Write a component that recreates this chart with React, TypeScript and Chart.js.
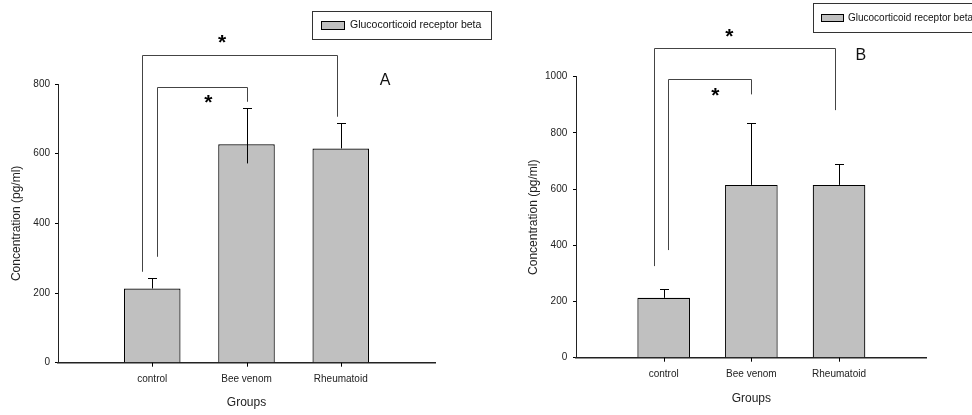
import React, { useEffect, useRef } from 'react';
import { Chart, registerables } from 'chart.js';

Chart.register(...registerables);

// ---------- data ----------
const categories = ['control', 'Bee venom', 'Rheumatoid'];
const seriesLabel = 'Glucocorticoid receptor beta';
const xAxisTitle = 'Groups';
const yAxisTitle = 'Concentration (pg/ml)';
const yStep = 200;

// Panel A
const meansA = [213, 627, 615];
const errTopA = [244, 732, 689];
const errBottomA = [213, 572, 615];
const yMaxA = 800;
// brackets: [leftX, rightX, topY, leftEndY, rightEndY, starX, starY] (category index / value units)
const bracketsA = [
  [0.888, 2.957, 883, 261, 706, 1.742, 934],
  [1.047, 2.0, 792, 304, 749, 1.595, 763],
];
const letterA = 'A';
const letterPosA = [3.47, 811];

// Panel B
const meansB = [213, 615, 615];
const errTopB = [243, 836, 688];
const errBottomB = [213, 615, 615];
const yMaxB = 1000;
const bracketsB = [
  [0.889, 2.957, 1103, 326, 881, 1.748, 1164],
  [1.052, 2.0, 992, 383, 937, 1.588, 953],
];
const letterB = 'B';
const letterPosB = [3.25, 1074];

const FONT = '"Liberation Sans", Arial, Helvetica, sans-serif';
const TEXT = '#222';
const BAR_FILL = '#c0c0c0';

// ---------- overlay plugin (x tick marks, error bars, brackets, stars, letter, legend) ----------
const overlayPlugin = {
  id: 'overlay',
  afterDatasetsDraw(chart: any, _args: any, opts: any) {
    const { ctx } = chart;
    const x = chart.scales.x;
    const y = chart.scales.y;
    ctx.save();
    // category tick marks below the x axis
    ctx.strokeStyle = '#000';
    ctx.lineWidth = 1;
    const axisY = y.getPixelForValue(0);
    categories.forEach((_c, i) => {
      const px = Math.round(x.getPixelForValue(i + 1)) + 0.5;
      ctx.beginPath();
      ctx.moveTo(px, axisY);
      ctx.lineTo(px, axisY + 4);
      ctx.stroke();
    });
    // error bars
    opts.errTop.forEach((top: number, i: number) => {
      const px = Math.round(x.getPixelForValue(i + 1)) + 0.5;
      const yT = Math.round(y.getPixelForValue(top)) + 0.5;
      const yB = y.getPixelForValue(opts.errBottom[i]);
      ctx.beginPath();
      ctx.moveTo(px, yB);
      ctx.lineTo(px, yT);
      ctx.moveTo(px - 4.5, yT);
      ctx.lineTo(px + 4.5, yT);
      ctx.stroke();
    });
    // brackets
    ctx.strokeStyle = '#444';
    ctx.lineWidth = 1;
    opts.brackets.forEach((b: number[]) => {
      const xl = Math.round(x.getPixelForValue(b[0])) + 0.5;
      const xr = Math.round(x.getPixelForValue(b[1])) + 0.5;
      const yt = Math.round(y.getPixelForValue(b[2])) + 0.5;
      const yl = y.getPixelForValue(b[3]);
      const yr = y.getPixelForValue(b[4]);
      ctx.beginPath();
      ctx.moveTo(xl, yl);
      ctx.lineTo(xl, yt);
      ctx.lineTo(xr, yt);
      ctx.lineTo(xr, yr);
      ctx.stroke();
      // star
      const sx = x.getPixelForValue(b[5]);
      const sy = y.getPixelForValue(b[6]);
      ctx.fillStyle = '#000';
      ctx.font = `bold 21px ${FONT}`;
      ctx.textAlign = 'center';
      ctx.textBaseline = 'alphabetic';
      ctx.fillText('*', sx, sy + 21 * 0.58);
    });
    // panel letter
    ctx.fillStyle = '#111';
    ctx.font = `16px ${FONT}`;
    ctx.textAlign = 'center';
    ctx.textBaseline = 'middle';
    ctx.fillText(opts.letter, x.getPixelForValue(opts.letterPos[0]), y.getPixelForValue(opts.letterPos[1]));
    // legend box
    const lg = opts.legend;
    const ds = chart.data.datasets[0];
    ctx.strokeStyle = '#333';
    ctx.lineWidth = 1;
    ctx.strokeRect(lg.x + 0.5, lg.y + 0.5, lg.w, lg.h);
    ctx.fillStyle = ds.backgroundColor;
    ctx.fillRect(lg.sx, lg.sy, lg.sw, lg.sh);
    ctx.strokeStyle = '#000';
    ctx.strokeRect(lg.sx + 0.5, lg.sy + 0.5, lg.sw - 1, lg.sh - 1);
    ctx.fillStyle = '#111';
    ctx.font = `${lg.fontSize}px ${FONT}`;
    ctx.textAlign = 'left';
    ctx.textBaseline = 'middle';
    ctx.fillText(ds.label, lg.tx, lg.ty);
    ctx.restore();
  },
};

function makeConfig(p: any): any {
  const labels = ['', ...categories, ''];
  return {
    type: 'bar',
    data: {
      labels,
      datasets: [
        {
          label: seriesLabel,
          data: [null, ...p.means, null],
          backgroundColor: BAR_FILL,
          borderColor: '#000',
          borderWidth: 1.2,
          barPercentage: 0.6,
          categoryPercentage: 1,
        },
      ],
    },
    options: {
      responsive: false,
      animation: false,
      events: [],
      layout: { padding: { top: p.padTop, right: p.padRight, left: 0, bottom: 0 } },
      plugins: {
        legend: { display: false },
        tooltip: { enabled: false },
        overlay: {
          errTop: p.errTop,
          errBottom: p.errBottom,
          brackets: p.brackets,
          letter: p.letter,
          letterPos: p.letterPos,
          legend: p.legend,
        },
      },
      scales: {
        x: {
          type: 'category',
          offset: false,
          afterFit: (s: any) => { s.height = p.xHeight; },
          grid: {
            offset: false,
            drawOnChartArea: false,
            drawTicks: false,
          },
          border: { display: true, color: '#222', width: 1.6 },
          ticks: {
            padding: p.xTickPad,
            color: TEXT,
            autoSkip: false,
            maxRotation: 0,
            font: { family: FONT, size: 10 },
          },
          title: {
            display: true,
            text: xAxisTitle,
            color: TEXT,
            font: { family: FONT, size: 12 },
            padding: { top: 0, bottom: p.xTitlePad },
          },
        },
        y: {
          min: 0,
          max: p.yMax,
          afterFit: (s: any) => { s.width = p.yWidth; },
          grid: { drawOnChartArea: false, drawTicks: true, tickLength: 3, lineWidth: 1, tickColor: '#000' },
          border: { display: true, color: '#222', width: 1 },
          ticks: {
            stepSize: yStep,
            padding: p.yTickPad,
            color: TEXT,
            font: { family: FONT, size: 10 },
            callback: (v: any) => String(v),
          },
          title: {
            display: true,
            text: yAxisTitle,
            color: TEXT,
            font: { family: FONT, size: 12 },
            padding: { top: p.yTitlePad, bottom: 0 },
          },
        },
      },
    },
    plugins: [overlayPlugin],
  };
}

const panelA = {
  means: meansA, errTop: errTopA, errBottom: errBottomA, yMax: yMaxA,
  brackets: bracketsA, letter: letterA, letterPos: letterPosA,
  padTop: 84, padRight: 65, yWidth: 58, xHeight: 52.3,
  xTickPad: 10.3, yTickPad: 5, xTitlePad: 4.8, yTitlePad: 9.5,
  legend: { x: 312, y: 11, w: 179, h: 28, sx: 321, sy: 21, sw: 24, sh: 9, tx: 350, ty: 25.5, fontSize: 10.5 },
};

const panelB = {
  means: meansB, errTop: errTopB, errBottom: errBottomB, yMax: yMaxB,
  brackets: bracketsB, letter: letterB, letterPos: letterPosB,
  padTop: 76.7, padRight: 45.3, yWidth: 96, xHeight: 57.3,
  xTickPad: 10.6, yTickPad: 5.7, xTitlePad: 9.5, yTitlePad: 46,
  legend: { x: 333, y: 3, w: 200, h: 29, sx: 341, sy: 14, sw: 23, sh: 8, tx: 368, ty: 18.5, fontSize: 10 },
};

export default function App() {
  const refA = useRef<HTMLCanvasElement | null>(null);
  const refB = useRef<HTMLCanvasElement | null>(null);

  useEffect(() => {
    const charts: Chart[] = [];
    if (refA.current) charts.push(new Chart(refA.current, makeConfig(panelA)));
    if (refB.current) charts.push(new Chart(refB.current, makeConfig(panelB)));
    return () => charts.forEach((c) => c.destroy());
  }, []);

  return (
    <div style={{ position: 'absolute', left: 0, top: 0, width: 972, height: 415, background: '#fff', overflow: 'hidden' }}>
      <canvas ref={refA} width={500} height={415} style={{ position: 'absolute', left: 0, top: 0, width: 500, height: 415 }} />
      <canvas ref={refB} width={492} height={415} style={{ position: 'absolute', left: 480, top: 0, width: 492, height: 415 }} />
    </div>
  );
}
